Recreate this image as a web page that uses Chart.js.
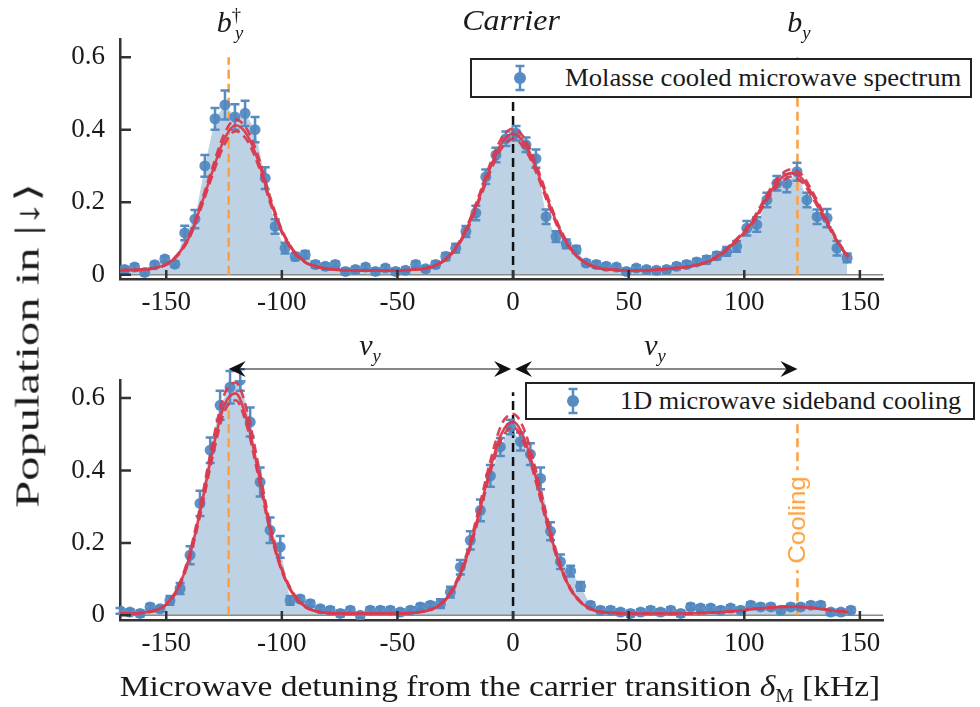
<!DOCTYPE html>
<html>
<head>
<meta charset="utf-8">
<title>Microwave sideband spectrum</title>
<script src="https://cdn.jsdelivr.net/npm/chart.js@4.4.1/dist/chart.umd.min.js"></script>
<style>
  body { margin:0; background:#fff; }
  #wrap { position:relative; width:980px; height:707px; overflow:hidden; font-family:"Liberation Serif","Times New Roman",serif; color:#1a1a1a; }
  canvas { position:absolute; left:0; }
  #topChart { top:0; }
  #botChart { top:330px; }
  .txt { position:absolute; white-space:nowrap; line-height:1; font-size:30px; transform:translate(-50%,-50%); }
  .legend { position:absolute; box-sizing:border-box; border:2.5px solid #222; background:#fff; }
  .legend svg { position:absolute; top:50%; transform:translateY(-50%); }
  .legend span { position:absolute; top:50%; white-space:nowrap; font-size:26px; line-height:1; transform-origin:left center; transform:translateY(-50%); }
  sub, sup { font-size:62%; line-height:0; }
  #cooling { font-family:"Liberation Sans",Arial,sans-serif; color:rgb(255,160,60); font-size:24px; background:#fff; padding:3px 6px; }
  #xtitle { font-size:29px; }
  #ytitle { font-size:33px; }
</style>
</head>
<body>
<div id="wrap">
  <canvas id="topChart" width="980" height="330"></canvas>
  <canvas id="botChart" width="980" height="377"></canvas>

  <div class="txt" id="bdag" style="left:230px;top:22px"><i>b</i><sup>†</sup><sub style="margin-left:-0.32em"><i>y</i></sub></div>
  <div class="txt" id="carrier" style="left:511px;top:20px"><i>Carrier</i></div>
  <div class="txt" id="by" style="left:799px;top:22px"><i>b</i><sub><i>y</i></sub></div>

  <div class="txt" style="left:370px;top:345px"><i>ν</i><sub><i>y</i></sub></div>
  <div class="txt" style="left:655px;top:345px"><i>ν</i><sub><i>y</i></sub></div>

  <div class="legend" style="left:470px;top:58px;width:502px;height:40px">
    <svg style="left:38px" width="20" height="30"><line x1="10" y1="3" x2="10" y2="27" stroke="rgb(86,140,194)" stroke-width="2.5"/><line x1="5.5" y1="3" x2="14.5" y2="3" stroke="rgb(86,140,194)" stroke-width="2.5"/><line x1="5.5" y1="27" x2="14.5" y2="27" stroke="rgb(86,140,194)" stroke-width="2.5"/><circle cx="10" cy="15" r="6" fill="rgb(86,140,194)"/></svg>
    <span id="leg1" style="left:93px">Molasse cooled microwave spectrum</span>
  </div>
  <div class="legend" style="left:525px;top:382px;width:450px;height:38px">
    <svg style="left:36px" width="20" height="30"><line x1="10" y1="3" x2="10" y2="27" stroke="rgb(86,140,194)" stroke-width="2.5"/><line x1="5.5" y1="3" x2="14.5" y2="3" stroke="rgb(86,140,194)" stroke-width="2.5"/><line x1="5.5" y1="27" x2="14.5" y2="27" stroke="rgb(86,140,194)" stroke-width="2.5"/><circle cx="10" cy="15" r="6" fill="rgb(86,140,194)"/></svg>
    <span id="leg2" style="left:93px">1D microwave sideband cooling</span>
  </div>

  <div class="txt" id="cooling" style="left:797px;top:520px">Cooling</div>

  <div class="txt" id="ytitle" style="left:28px;top:345px">Population in |↓⟩</div>
  <div class="txt" id="xtitle" style="left:500px;top:686px">Microwave detuning from the carrier transition <i>δ</i><sub>M</sub> [kHz]</div>
</div>

<script>
/* DATA */
const xTicks = [-150, -100, -50, 0, 50, 100, 150];
const yTicks = [0, 0.2, 0.4, 0.6];
const sidebands = [-123, 0, 123];

// molasse cooled spectrum (top)
const topX = [-168.0,-163.7,-159.3,-155.0,-150.6,-146.3,-142.0,-137.6,-133.3,-128.9,-124.6,-120.3,-115.9,-111.6,-107.2,-102.9,-98.6,-94.2,-89.9,-85.5,-81.2,-76.9,-72.5,-68.2,-63.8,-59.5,-55.2,-50.8,-46.5,-42.1,-37.8,-33.5,-29.1,-24.8,-20.4,-16.1,-11.8,-7.4,-3.1,1.3,5.6,9.9,14.3,18.6,23.0,27.3,31.6,36.0,40.3,44.7,49.0,53.3,57.7,62.0,66.4,70.7,75.0,79.4,83.7,88.1,92.4,96.7,101.1,105.4,109.8,114.1,118.4,122.8,127.1,131.5,135.8,140.1,144.5];
const topY = [0.014,0.021,0.006,0.027,0.043,0.029,0.115,0.153,0.30,0.43,0.468,0.435,0.445,0.40,0.266,0.133,0.073,0.05,0.055,0.028,0.023,0.028,0.009,0.014,0.021,0.009,0.018,0.009,0.012,0.028,0.016,0.028,0.05,0.073,0.119,0.17,0.27,0.33,0.375,0.39,0.358,0.32,0.16,0.105,0.085,0.069,0.032,0.028,0.023,0.021,0.009,0.018,0.014,0.012,0.014,0.023,0.028,0.035,0.041,0.052,0.064,0.078,0.128,0.138,0.206,0.252,0.252,0.284,0.206,0.16,0.156,0.073,0.046];
const topErr = [0.008,0.008,0.008,0.008,0.008,0.008,0.02,0.025,0.03,0.03,0.04,0.035,0.035,0.035,0.03,0.02,0.015,0.01,0.01,0.008,0.008,0.008,0.008,0.008,0.008,0.008,0.008,0.008,0.008,0.008,0.008,0.008,0.01,0.012,0.015,0.02,0.02,0.02,0.02,0.02,0.02,0.025,0.02,0.015,0.012,0.01,0.008,0.008,0.008,0.008,0.008,0.008,0.008,0.008,0.008,0.008,0.008,0.008,0.01,0.01,0.012,0.015,0.02,0.02,0.02,0.02,0.025,0.025,0.02,0.02,0.025,0.02,0.012];

// sideband cooled spectrum (bottom)
const botX = [-170.0,-165.7,-161.3,-157.0,-152.7,-148.4,-144.0,-139.7,-135.4,-131.0,-126.7,-122.4,-118.0,-113.7,-109.4,-105.1,-100.7,-96.4,-92.1,-87.7,-83.4,-79.1,-74.7,-70.4,-66.1,-61.8,-57.4,-53.1,-48.8,-44.4,-40.1,-35.8,-31.4,-27.1,-22.8,-18.5,-14.1,-9.8,-5.5,-1.1,3.2,7.5,11.9,16.2,20.5,24.9,29.2,33.5,37.8,42.2,46.5,50.8,55.2,59.5,63.8,68.2,72.5,76.8,81.1,85.5,89.8,94.1,98.5,102.8,107.1,111.5,115.8,120.1,124.4,128.8,133.1,137.4,141.8,146.1];
const botY = [0.012,0.009,0.005,0.023,0.018,0.041,0.074,0.166,0.309,0.456,0.58,0.63,0.65,0.534,0.368,0.235,0.189,0.041,0.045,0.032,0.018,0.014,0.005,0.014,0.0,0.014,0.014,0.014,0.009,0.014,0.023,0.028,0.032,0.064,0.133,0.207,0.29,0.385,0.465,0.52,0.48,0.445,0.378,0.232,0.148,0.122,0.08,0.028,0.014,0.014,0.009,0.005,0.009,0.014,0.009,0.014,0.005,0.023,0.02,0.02,0.014,0.02,0.014,0.028,0.023,0.023,0.014,0.023,0.023,0.028,0.028,0.009,0.009,0.014];
const botErr = [0.008,0.008,0.008,0.008,0.008,0.012,0.015,0.025,0.035,0.035,0.04,0.045,0.03,0.04,0.04,0.035,0.03,0.012,0.008,0.008,0.008,0.008,0.008,0.008,0.008,0.008,0.008,0.008,0.008,0.008,0.008,0.008,0.012,0.015,0.02,0.025,0.03,0.03,0.025,0.02,0.025,0.03,0.03,0.025,0.02,0.015,0.012,0.008,0.008,0.008,0.008,0.008,0.008,0.008,0.008,0.008,0.008,0.008,0.008,0.008,0.008,0.008,0.008,0.008,0.008,0.008,0.008,0.008,0.008,0.008,0.008,0.008,0.008,0.008];

// fitted model curves (solid) and their bounds (dashed)
const fitX = [-170,-165,-160,-155,-150,-145,-140,-135,-130,-125,-120,-115,-110,-105,-100,-95,-90,-85,-80,-75,-70,-65,-60,-55,-50,-45,-40,-35,-30,-25,-20,-15,-10,-5,0,5,10,15,20,25,30,35,40,45,50,55,60,65,70,75,80,85,90,95,100,105,110,115,120,125,130,135,140,145];
const topFit   = [0.012,0.013,0.014,0.018,0.028,0.055,0.105,0.19,0.285,0.372,0.412,0.385,0.31,0.205,0.12,0.065,0.035,0.022,0.016,0.013,0.012,0.011,0.011,0.011,0.011,0.013,0.015,0.022,0.038,0.071,0.127,0.206,0.293,0.362,0.389,0.362,0.293,0.206,0.127,0.071,0.038,0.022,0.015,0.013,0.012,0.012,0.013,0.015,0.018,0.021,0.027,0.038,0.057,0.085,0.117,0.16,0.215,0.26,0.28,0.265,0.215,0.155,0.095,0.048];
const topFitHi = [0.012,0.013,0.014,0.018,0.029,0.057,0.109,0.197,0.296,0.387,0.428,0.4,0.322,0.213,0.124,0.067,0.036,0.022,0.016,0.013,0.012,0.011,0.011,0.011,0.011,0.013,0.015,0.022,0.039,0.073,0.132,0.214,0.304,0.376,0.403,0.376,0.304,0.214,0.132,0.073,0.039,0.022,0.015,0.013,0.012,0.012,0.013,0.015,0.018,0.021,0.027,0.039,0.059,0.088,0.121,0.166,0.223,0.27,0.29,0.275,0.223,0.161,0.098,0.05];
const topFitLo = [0.012,0.013,0.014,0.018,0.027,0.053,0.101,0.183,0.274,0.357,0.396,0.37,0.298,0.197,0.116,0.063,0.034,0.022,0.016,0.013,0.012,0.011,0.011,0.011,0.011,0.013,0.015,0.022,0.037,0.069,0.122,0.198,0.282,0.348,0.374,0.348,0.282,0.198,0.122,0.069,0.037,0.022,0.015,0.013,0.012,0.012,0.013,0.015,0.018,0.021,0.027,0.037,0.055,0.082,0.113,0.154,0.207,0.25,0.27,0.255,0.207,0.149,0.092,0.046];
const botFit   = [0.005,0.005,0.007,0.013,0.03,0.074,0.161,0.296,0.454,0.579,0.613,0.537,0.391,0.237,0.125,0.058,0.024,0.011,0.006,0.005,0.005,0.005,0.005,0.005,0.005,0.006,0.009,0.017,0.038,0.083,0.162,0.275,0.402,0.502,0.535,0.486,0.378,0.251,0.143,0.071,0.032,0.014,0.008,0.006,0.005,0.005,0.005,0.005,0.005,0.005,0.006,0.007,0.009,0.011,0.014,0.018,0.021,0.023,0.024,0.023,0.02,0.016,0.012,0.009];
const botFitHi = [0.005,0.005,0.007,0.014,0.031,0.077,0.169,0.311,0.476,0.608,0.643,0.564,0.41,0.249,0.131,0.061,0.025,0.011,0.006,0.005,0.005,0.005,0.005,0.005,0.005,0.006,0.009,0.018,0.04,0.087,0.17,0.289,0.422,0.527,0.556,0.51,0.397,0.264,0.15,0.074,0.033,0.014,0.008,0.006,0.005,0.005,0.005,0.005,0.005,0.005,0.006,0.007,0.009,0.011,0.014,0.018,0.021,0.023,0.024,0.023,0.02,0.016,0.012,0.009];
const botFitLo = [0.005,0.005,0.007,0.012,0.029,0.071,0.155,0.285,0.437,0.56,0.594,0.52,0.378,0.229,0.121,0.056,0.023,0.011,0.006,0.005,0.005,0.005,0.005,0.005,0.005,0.006,0.009,0.016,0.037,0.08,0.157,0.266,0.39,0.487,0.52,0.471,0.366,0.243,0.139,0.069,0.031,0.014,0.008,0.006,0.005,0.005,0.005,0.005,0.005,0.005,0.006,0.007,0.009,0.011,0.014,0.018,0.021,0.023,0.024,0.023,0.02,0.016,0.012,0.009];

/* STYLE */
const BLUE = "rgba(80,136,192,0.92)";
const BLUE_BAR = "rgb(86,140,194)";
const FILL = "rgb(189,211,229)";
const RED = "rgba(218,58,78,0.95)";
const ORANGE = "rgb(255,160,60)";
const AXIS = "#333";
const SERIF = "Liberation Serif, Times New Roman, serif";

function pts(xs, ys) {
    return xs.map((x, i) => ({ x: x, y: ys[i] }));
}

function dashedV(ctx, xs, ys, x, y0, y1, color) {
    ctx.save();
    ctx.strokeStyle = color;
    ctx.lineWidth = 2.5;
    ctx.setLineDash([9, 5]);
    ctx.beginPath();
    ctx.moveTo(xs.getPixelForValue(x), ys.getPixelForValue(y0));
    ctx.lineTo(xs.getPixelForValue(x), ys.getPixelForValue(y1));
    ctx.stroke();
    ctx.restore();
}

function arrowHead(ctx, x, y, dir) {
    ctx.beginPath();
    ctx.moveTo(x, y);
    ctx.lineTo(x - dir * 17, y - 8);
    ctx.lineTo(x - dir * 11, y);
    ctx.lineTo(x - dir * 17, y + 8);
    ctx.closePath();
    ctx.fill();
}

/* OVERLAY: marker lines, error bars, inward ticks, arrows */
function makeOverlay(vlines, withArrows) {
    return {
        id: "overlay",
        beforeDatasetDraw(chart, args) {
            if (args.index !== 1) return;
            const ctx = chart.ctx, xs = chart.scales.x, ys = chart.scales.y, a = chart.chartArea;

            // zero line
            ctx.save();
            ctx.strokeStyle = "#8a8a8a";
            ctx.lineWidth = 1.5;
            ctx.beginPath();
            ctx.moveTo(a.left, ys.getPixelForValue(0));
            ctx.lineTo(a.right, ys.getPixelForValue(0));
            ctx.stroke();
            ctx.restore();

            vlines.forEach(v => dashedV(ctx, xs, ys, v.x, v.y0, v.y1, v.color));

            // error bars
            const ds = chart.data.datasets[1];
            ctx.save();
            ctx.strokeStyle = BLUE_BAR;
            ctx.lineWidth = 2.5;
            ds.data.forEach((p, i) => {
                const e = ds.errors[i];
                const px = xs.getPixelForValue(p.x);
                const yt = ys.getPixelForValue(p.y + e);
                const yb = ys.getPixelForValue(p.y - e);
                ctx.beginPath();
                ctx.moveTo(px, yt); ctx.lineTo(px, yb);
                ctx.moveTo(px - 4.5, yt); ctx.lineTo(px + 4.5, yt);
                ctx.moveTo(px - 4.5, yb); ctx.lineTo(px + 4.5, yb);
                ctx.stroke();
            });
            ctx.restore();
        },
        afterDraw(chart) {
            const ctx = chart.ctx, xs = chart.scales.x, ys = chart.scales.y, a = chart.chartArea;
            ctx.save();
            ctx.strokeStyle = AXIS;
            ctx.lineWidth = 2.5;
            ctx.beginPath();
            xTicks.forEach(v => {
                const p = xs.getPixelForValue(v);
                ctx.moveTo(p, a.bottom);
                ctx.lineTo(p, a.bottom - 9);
            });
            yTicks.forEach(v => {
                const p = ys.getPixelForValue(v);
                ctx.moveTo(a.left, p);
                ctx.lineTo(a.left + 11, p);
            });
            ctx.stroke();

            if (withArrows) {
                const y = a.top - 11;
                const x1 = xs.getPixelForValue(sidebands[0]);
                const x2 = xs.getPixelForValue(sidebands[1]);
                const x3 = xs.getPixelForValue(sidebands[2]);
                ctx.strokeStyle = "#111";
                ctx.fillStyle = "#111";
                ctx.lineWidth = 1.2;
                ctx.beginPath();
                ctx.moveTo(x1 + 8, y); ctx.lineTo(x2 - 8, y);
                ctx.moveTo(x2 + 8, y); ctx.lineTo(x3 - 8, y);
                ctx.stroke();
                arrowHead(ctx, x1, y, -1);
                arrowHead(ctx, x2 - 2, y, 1);
                arrowHead(ctx, x2 + 2, y, -1);
                arrowHead(ctx, x3, y, 1);
            }
            ctx.restore();
        }
    };
}

/* CHART */
function makeChart(id, xs, ys, errs, fit, fitHi, fitLo, yMin, padTop, xAxisH, overlay) {
    const fitLine = (vals, dash, order) => ({
        data: pts(fitX, vals),
        borderColor: RED,
        borderWidth: 2.6,
        borderDash: dash,
        pointRadius: 0,
        fill: false,
        cubicInterpolationMode: "monotone",
        order: order
    });

    return new Chart(document.getElementById(id), {
        type: "line",
        data: {
            datasets: [
                { data: pts(xs, ys), fill: "origin", backgroundColor: FILL, borderWidth: 0, pointRadius: 0, tension: 0, order: 5 },
                { data: pts(xs, ys), errors: errs, showLine: false, pointRadius: 5.5, pointBackgroundColor: BLUE, pointBorderWidth: 0, order: 4 },
                fitLine(fitHi, [9, 5], 3),
                fitLine(fitLo, [9, 5], 2),
                fitLine(fit, [], 1)
            ]
        },
        options: {
            responsive: false,
            animation: false,
            devicePixelRatio: 1,
            events: [],
            layout: { padding: { top: padTop, right: 97, left: 0, bottom: 0 } },
            plugins: { legend: { display: false }, tooltip: { enabled: false } },
            scales: {
                x: {
                    type: "linear", min: -170, max: 160,
                    grid: { display: false, drawTicks: false },
                    border: { display: true, color: AXIS, width: 2.5 },
                    ticks: { font: { family: SERIF, size: 27 }, color: "#1a1a1a", padding: 8, callback: v => String(v) },
                    afterBuildTicks: s => { s.ticks = xTicks.map(v => ({ value: v })); },
                    afterFit: s => { s.height = xAxisH; }
                },
                y: {
                    min: yMin, max: 0.65,
                    grid: { display: false, drawTicks: false },
                    border: { display: true, color: AXIS, width: 2.5 },
                    ticks: { font: { family: SERIF, size: 27 }, color: "#1a1a1a", padding: 15, callback: v => String(v) },
                    afterBuildTicks: s => { s.ticks = yTicks.map(v => ({ value: v })); },
                    afterFit: s => { s.width = 120; }
                }
            }
        },
        plugins: [overlay]
    });
}

/* TEXT FITTING */
function fitWidth(id, target, base) {
    const el = document.getElementById(id);
    const s = target / el.offsetWidth;
    el.style.transform = base + " scaleX(" + s.toFixed(3) + ")";
}

function build() {
    makeChart("topChart", topX, topY, topErr, topFit, topFitHi, topFitLo, -0.012, 39, 51,
        makeOverlay([
            { x: sidebands[0], y0: 0, y1: 0.6, color: ORANGE },
            { x: sidebands[1], y0: -0.012, y1: 0.6, color: "#111" },
            { x: sidebands[2], y0: 0, y1: 0.6, color: ORANGE }
        ], false));

    makeChart("botChart", botX, botY, botErr, botFit, botFitHi, botFitLo, -0.013, 50, 87,
        makeOverlay([
            { x: sidebands[0], y0: 0, y1: 0.6, color: ORANGE },
            { x: sidebands[1], y0: -0.013, y1: 0.616, color: "#111" },
            { x: sidebands[2], y0: 0, y1: 0.64, color: ORANGE }
        ], true));

    fitWidth("xtitle", 760, "translate(-50%,-50%)");
    fitWidth("ytitle", 325, "translate(-50%,-50%) rotate(-90deg)");
    fitWidth("carrier", 98, "translate(-50%,-50%)");
    fitWidth("leg1", 396, "translate(0,-50%)");
    fitWidth("leg2", 341, "translate(0,-50%)");
    fitWidth("cooling", 100, "translate(-50%,-50%) rotate(-90deg)");
}

document.fonts.load('27px "Liberation Serif"').then(build, build);
</script>
</body>
</html>
